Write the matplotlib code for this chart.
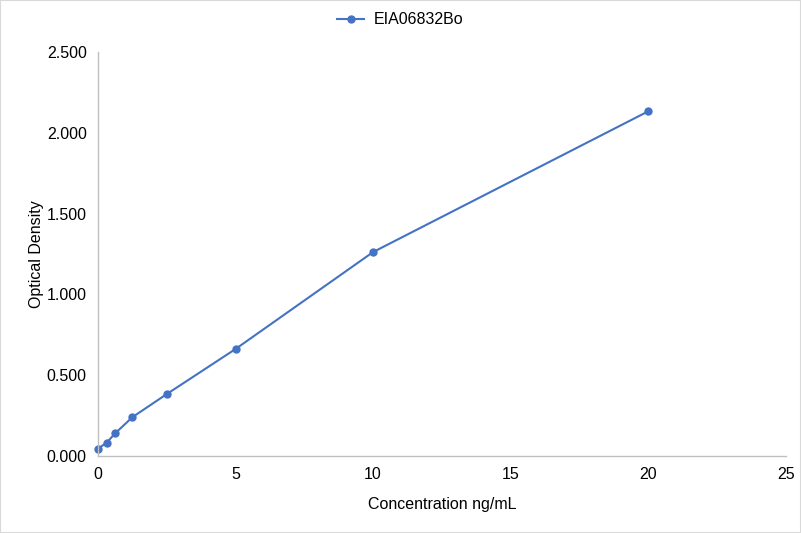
import numpy as np
import matplotlib.pyplot as plt
from matplotlib.patches import Rectangle

plt.rcParams['font.family'] = ['Liberation Sans', 'DejaVu Sans']

conc = [0, 0.3125, 0.625, 1.25, 2.5, 5, 10, 20]
od = [0.045, 0.082, 0.140, 0.240, 0.383, 0.662, 1.262, 2.133]
series_name = 'EIA06832Bo'

fig = plt.figure(figsize=(8.01, 5.33), dpi=100)
ax = fig.add_axes([0.1223, 0.1445, 0.8587, 0.7579])

ax.plot(conc, od, color='#4472C4', linewidth=1.5, marker='o', markersize=5,
        label=series_name, clip_on=False)

ax.set_xlim(0, 25)
ax.set_ylim(0, 2.5)
ax.set_xticks(np.arange(0, 26, 5))
ax.set_yticks(np.arange(0, 2.51, 0.5))
ax.set_yticklabels([f'{v:.3f}' for v in np.arange(0, 2.51, 0.5)])

for side in ['top', 'right']:
    ax.spines[side].set_visible(False)
for side in ['left', 'bottom']:
    ax.spines[side].set_color('#BFBFBF')
    ax.spines[side].set_linewidth(1)
ax.tick_params(length=0, labelsize=11.5, colors='#000000', pad=8)

ax.set_xlabel('Concentration ng/mL', fontsize=11.5, labelpad=11)
ax.set_ylabel('Optical Density', fontsize=11.5, labelpad=2)

fig.legend(loc='center', bbox_to_anchor=(0.5, 1 - 20 / 533), frameon=False, fontsize=11.5,
           handlelength=1.7, handletextpad=0.6)

fig.patches.append(Rectangle((0, 0), 1, 1, transform=fig.transFigure, fill=False,
                             edgecolor='#D9D9D9', linewidth=1.5))

fig.savefig('out.png', dpi=100)
